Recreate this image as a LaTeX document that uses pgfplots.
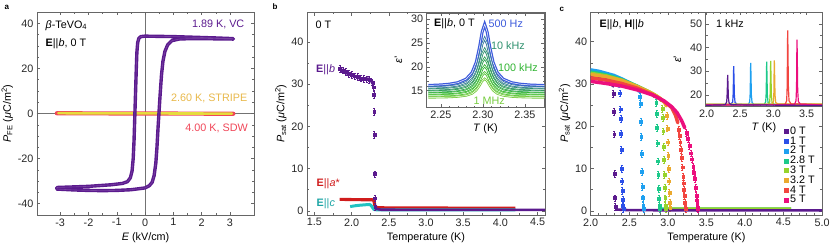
\documentclass[border=0pt]{standalone}
\usepackage{fontspec}
\setmainfont{Liberation Sans}
\usepackage{pgfplots}
\pgfplotsset{compat=1.18}
\definecolor{pur}{HTML}{5B1A8E}
\definecolor{sdw}{HTML}{F04658}
\definecolor{strl}{HTML}{E6DC3C}
\definecolor{strt}{HTML}{E8B84A}
\definecolor{ared}{HTML}{D01C1C}
\definecolor{ccy}{HTML}{22C2C2}
\definecolor{eA}{RGB}{60,90,220}
\definecolor{eB}{RGB}{52,120,160}
\definecolor{eC}{RGB}{46,145,110}
\definecolor{eD}{RGB}{44,160,80}
\definecolor{eE}{RGB}{48,180,50}
\definecolor{eF}{RGB}{80,195,55}
\definecolor{eG}{RGB}{120,205,65}
\definecolor{cA}{HTML}{5B1A8E}
\definecolor{cB}{HTML}{2B4FE8}
\definecolor{cC}{HTML}{1EA0F0}
\definecolor{cD}{HTML}{1CC98A}
\definecolor{cE}{HTML}{96D32C}
\definecolor{cF}{HTML}{EBA92E}
\definecolor{cG}{HTML}{F2453F}
\definecolor{cH}{HTML}{EC0F7D}
\newcommand{\fs}{\fontsize{10.8bp}{13bp}\selectfont}
\pgfplotsset{
  myax/.style={scale only axis,
    axis line style={draw=black!60, line width=0.5pt},
    every tick/.style={draw=black!60, line width=0.5pt},
    tick align=inside, major tick length=3bp, minor tick length=1.8bp,
    font=\fs, ticklabel style={font=\fs, text=black!85},
    label style={font=\fs},
    /pgf/number format/assume math mode=true,
    clip=true},
  dropmk/.style={only marks, mark=square*, mark size=1.4bp,
    error bars/y dir=both, error bars/y fixed=0.8,
    error bars/error bar style={line width=0.4pt},
    error bars/error mark options={rotate=90, mark size=1bp}},
  band/.style={line width=3.5pt, line join=round, line cap=round},
}
\begin{document}
\begin{tikzpicture}
\useasboundingbox (0,0) rectangle (830bp,-249bp);
% ---------------- panel a
\begin{axis}[myax, at={(37bp,-215bp)}, anchor=south west, width=217bp, height=203bp,
  xmin=-3.82, xmax=3.85, ymin=-45, ymax=45,
  xtick={-3,-2,-1,0,1,2,3}, ytick={-40,-20,0,20,40},
  minor x tick num=1, minor y tick num=3,
  extra x ticks={0}, extra x tick labels={}, extra y ticks={0}, extra y tick labels={},
  extra tick style={grid=major, major grid style={black!55, line width=0.6pt}},
  xlabel={\textit{E} (kV/cm)},
  ylabel={\textit{P}\textsubscript{FE} (\textit{μ}C/m\textsuperscript{2})},
  ylabel style={yshift=-2bp}]
\addplot[sdw, line width=4.2pt, line cap=round] coordinates {(-3.12,0.1)(-1.5,0.05)(0,0)(1.5,-0.05)(3.12,-0.1)};
\addplot[strl, line width=2.6pt, line cap=round] coordinates {(-3.07,0.15)(-1.5,0.05)(0,0.05)(1.5,0)(3.07,-0.05)};
\addplot[pur, line width=3.4pt, line join=round, line cap=round] coordinates {
(3.12,33.2)(2.5,33.5)(2.0,33.7)(1.5,33.9)(1.0,34.1)(0.5,34.2)(0.0,34.3)(-0.15,34.1)(-0.22,33.3)(-0.26,31.5)(-0.29,27)(-0.31,20)(-0.33,12)(-0.35,4)(-0.37,-4)(-0.39,-12)(-0.42,-20)(-0.46,-25.5)(-0.52,-28.5)(-0.62,-30.2)(-0.8,-31)(-1.2,-31.6)(-2,-32.3)(-3.12,-32.8)
(-3.12,-33.5)(-2.5,-33.9)(-2.0,-34.1)(-1.5,-34.2)(-1.0,-34.1)(-0.5,-33.8)(0.0,-33)(0.15,-32)(0.25,-30.5)(0.32,-27.5)(0.38,-22)(0.42,-15)(0.46,-6)(0.49,0)(0.53,8)(0.58,17)(0.63,23)(0.7,27.5)(0.8,30.5)(0.95,32.3)(1.2,33)(1.6,33.2)(2.0,33.2)(2.5,33.1)(3.12,33.0)};
\addplot[pur!82!white, line width=0.6pt, line join=round] coordinates {
(3.12,33.2)(2.5,33.5)(2.0,33.7)(1.5,33.9)(1.0,34.1)(0.5,34.2)(0.0,34.3)(-0.15,34.1)(-0.22,33.3)(-0.26,31.5)(-0.29,27)(-0.31,20)(-0.33,12)(-0.35,4)(-0.37,-4)(-0.39,-12)(-0.42,-20)(-0.46,-25.5)(-0.52,-28.5)(-0.62,-30.2)(-0.8,-31)(-1.2,-31.6)(-2,-32.3)(-3.12,-32.8)
(-3.12,-33.5)(-2.5,-33.9)(-2.0,-34.1)(-1.5,-34.2)(-1.0,-34.1)(-0.5,-33.8)(0.0,-33)(0.15,-32)(0.25,-30.5)(0.32,-27.5)(0.38,-22)(0.42,-15)(0.46,-6)(0.49,0)(0.53,8)(0.58,17)(0.63,23)(0.7,27.5)(0.8,30.5)(0.95,32.3)(1.2,33)(1.6,33.2)(2.0,33.2)(2.5,33.1)(3.12,33.0)};
\end{axis}
% ---------------- panel b
\begin{axis}[myax, at={(307bp,-215bp)}, anchor=south west, width=238bp, height=202.5bp,
  xmin=1.4, xmax=4.6, ymin=-1, ymax=47,
  xtick={1.5,2.0,...,4.5}, ytick={0,10,20,30,40},
  minor x tick num=1, minor y tick num=1,
  xticklabel style={/pgf/number format/.cd, fixed, fixed zerofill, precision=1},
  xlabel={Temperature (K)},
  ylabel={\textit{P}\textsubscript{sat} (\textit{μ}C/m\textsuperscript{2})},
  ylabel style={yshift=-2bp}]
\addplot[ared, line width=3.2pt, line join=round] coordinates {(1.84,2.7)(1.9,2.7)(2.0,2.65)(2.1,2.65)(2.2,2.6)(2.28,2.6)(2.3,2.4)(2.31,1.4)(2.32,0.8)(2.4,0.7)(3.0,0.65)(4.2,0.6)};
\addplot[ccy, line width=3pt, line join=round] coordinates {(1.98,1.0)(2.05,1.2)(2.1,1.3)(2.2,1.45)(2.24,1.5)(2.26,1.3)(2.28,0.8)(2.30,0.3)(2.35,0.2)(4.2,0.2)};
\addplot[pur, line width=3pt, line join=round] coordinates {(1.84,33.6)(1.86,33.4)(1.88,33.3)(1.90,33.0)(1.92,32.9)(1.94,32.6)(1.96,32.5)(1.98,32.3)(2.00,32.2)(2.02,32.0)(2.04,31.9)(2.06,31.8)(2.08,31.7)(2.10,31.5)(2.12,31.4)(2.14,31.3)(2.16,31.3)(2.18,31.1)(2.20,31.2)(2.22,31.3)(2.24,31.0)(2.26,30.8)(2.28,30.5)(2.29,30.0)};
\addplot[pur, dropmk] coordinates {(1.84,33.6)(1.88,33.3)(1.92,32.9)(1.96,32.5)(2.00,32.2)(2.04,31.9)(2.08,31.7)(2.12,31.4)(2.16,31.3)(2.20,31.2)(2.24,31.0)(2.28,30.5)(2.295,29.3)(2.30,27.6)(2.303,23.5)(2.306,18.1)(2.31,8.7)(2.313,3.0)(2.316,1.0)};
\addplot[pur, line width=2.6pt] coordinates {(2.316,0.5)(2.4,0.25)(3.0,0.2)(4.6,0.2)};
\end{axis}
% inset b
\begin{axis}[myax, at={(426.7bp,-13bp)}, anchor=north west, width=117.6bp, height=94.3bp,
  axis background/.style={fill=white},
  xmin=2.233, xmax=2.373, ymin=11.5, ymax=31.3,
  xtick={2.25,2.30,2.35}, ytick={15,20,25,30},
  minor x tick num=4, minor y tick num=4,
  xticklabel style={/pgf/number format/.cd, fixed, fixed zerofill, precision=2},
  xlabel={\textit{T} (K)}, ylabel={\textit{ε}'},
  xlabel style={yshift=2bp}, ylabel style={yshift=2bp}]
\addplot[eA, line width=3pt] coordinates {(2.235,16.08)(2.25,16.2)(2.26,16.36)(2.27,16.67)(2.28,17.42)(2.287,18.77)(2.292,20.97)(2.296,24.22)(2.299,27.3)(2.302,28.9)(2.305,27.3)(2.308,24.22)(2.312,20.97)(2.317,18.77)(2.324,17.42)(2.334,16.67)(2.344,16.36)(2.357,16.17)(2.375,16.06)};
\addplot[white, line width=0.5pt] coordinates {(2.235,16.08)(2.25,16.2)(2.26,16.36)(2.27,16.67)(2.28,17.42)(2.287,18.77)(2.292,20.97)(2.296,24.22)(2.299,27.3)(2.302,28.9)(2.305,27.3)(2.308,24.22)(2.312,20.97)(2.317,18.77)(2.324,17.42)(2.334,16.67)(2.344,16.36)(2.357,16.17)(2.375,16.06)};
\addplot[eB, line width=2.2pt] coordinates {(2.235,15.65)(2.25,15.74)(2.26,15.87)(2.27,16.12)(2.28,16.73)(2.287,17.82)(2.292,19.6)(2.296,22.22)(2.299,24.71)(2.302,26)(2.305,24.71)(2.308,22.22)(2.312,19.6)(2.317,17.82)(2.324,16.73)(2.334,16.12)(2.344,15.87)(2.357,15.72)(2.375,15.63)};
\addplot[white, line width=0.5pt] coordinates {(2.235,15.65)(2.25,15.74)(2.26,15.87)(2.27,16.12)(2.28,16.73)(2.287,17.82)(2.292,19.6)(2.296,22.22)(2.299,24.71)(2.302,26)(2.305,24.71)(2.308,22.22)(2.312,19.6)(2.317,17.82)(2.324,16.73)(2.334,16.12)(2.344,15.87)(2.357,15.72)(2.375,15.63)};
\addplot[eC, line width=2.2pt] coordinates {(2.235,15.22)(2.25,15.3)(2.26,15.4)(2.27,15.61)(2.28,16.11)(2.287,17.0)(2.292,18.45)(2.296,20.6)(2.299,22.64)(2.302,23.7)(2.305,22.64)(2.308,20.6)(2.312,18.45)(2.317,17.0)(2.324,16.11)(2.334,15.61)(2.344,15.4)(2.357,15.28)(2.375,15.2)};
\addplot[white, line width=0.5pt] coordinates {(2.235,15.22)(2.25,15.3)(2.26,15.4)(2.27,15.61)(2.28,16.11)(2.287,17.0)(2.292,18.45)(2.296,20.6)(2.299,22.64)(2.302,23.7)(2.305,22.64)(2.308,20.6)(2.312,18.45)(2.317,17.0)(2.324,16.11)(2.334,15.61)(2.344,15.4)(2.357,15.28)(2.375,15.2)};
\addplot[eD, line width=2.2pt] coordinates {(2.235,14.8)(2.25,14.86)(2.26,14.95)(2.27,15.12)(2.28,15.53)(2.287,16.27)(2.292,17.47)(2.296,19.24)(2.299,20.93)(2.302,21.8)(2.305,20.93)(2.308,19.24)(2.312,17.47)(2.317,16.27)(2.324,15.53)(2.334,15.12)(2.344,14.95)(2.357,14.85)(2.375,14.79)};
\addplot[white, line width=0.5pt] coordinates {(2.235,14.8)(2.25,14.86)(2.26,14.95)(2.27,15.12)(2.28,15.53)(2.287,16.27)(2.292,17.47)(2.296,19.24)(2.299,20.93)(2.302,21.8)(2.305,20.93)(2.308,19.24)(2.312,17.47)(2.317,16.27)(2.324,15.53)(2.334,15.12)(2.344,14.95)(2.357,14.85)(2.375,14.79)};
\addplot[eE, line width=2.2pt] coordinates {(2.235,14.38)(2.25,14.44)(2.26,14.51)(2.27,14.65)(2.28,14.99)(2.287,15.6)(2.292,16.6)(2.296,18.08)(2.299,19.47)(2.302,20.2)(2.305,19.47)(2.308,18.08)(2.312,16.6)(2.317,15.6)(2.324,14.99)(2.334,14.65)(2.344,14.51)(2.357,14.42)(2.375,14.37)};
\addplot[white, line width=0.5pt] coordinates {(2.235,14.38)(2.25,14.44)(2.26,14.51)(2.27,14.65)(2.28,14.99)(2.287,15.6)(2.292,16.6)(2.296,18.08)(2.299,19.47)(2.302,20.2)(2.305,19.47)(2.308,18.08)(2.312,16.6)(2.317,15.6)(2.324,14.99)(2.334,14.65)(2.344,14.51)(2.357,14.42)(2.375,14.37)};
\addplot[eF, line width=2.2pt] coordinates {(2.235,13.97)(2.25,14.01)(2.26,14.07)(2.27,14.19)(2.28,14.47)(2.287,14.98)(2.292,15.81)(2.296,17.04)(2.299,18.2)(2.302,18.8)(2.305,18.2)(2.308,17.04)(2.312,15.81)(2.317,14.98)(2.324,14.47)(2.334,14.19)(2.344,14.07)(2.357,14.0)(2.375,13.96)};
\addplot[white, line width=0.5pt] coordinates {(2.235,13.97)(2.25,14.01)(2.26,14.07)(2.27,14.19)(2.28,14.47)(2.287,14.98)(2.292,15.81)(2.296,17.04)(2.299,18.2)(2.302,18.8)(2.305,18.2)(2.308,17.04)(2.312,15.81)(2.317,14.98)(2.324,14.47)(2.334,14.19)(2.344,14.07)(2.357,14.0)(2.375,13.96)};
\addplot[eG, line width=2.2pt] coordinates {(2.235,13.56)(2.25,13.59)(2.26,13.64)(2.27,13.74)(2.28,13.97)(2.287,14.38)(2.292,15.06)(2.296,16.06)(2.299,17.01)(2.302,17.5)(2.305,17.01)(2.308,16.06)(2.312,15.06)(2.317,14.38)(2.324,13.97)(2.334,13.74)(2.344,13.64)(2.357,13.58)(2.375,13.55)};
\addplot[white, line width=0.5pt] coordinates {(2.235,13.56)(2.25,13.59)(2.26,13.64)(2.27,13.74)(2.28,13.97)(2.287,14.38)(2.292,15.06)(2.296,16.06)(2.299,17.01)(2.302,17.5)(2.305,17.01)(2.308,16.06)(2.312,15.06)(2.317,14.38)(2.324,13.97)(2.334,13.74)(2.344,13.64)(2.357,13.58)(2.375,13.55)};
\end{axis}
% ---------------- panel c
\begin{axis}[myax, at={(590.7bp,-215bp)}, anchor=south west, width=231.3bp, height=203bp,
  xmin=2, xmax=5, ymin=-1, ymax=47,
  xtick={2.0,2.5,...,5.0}, ytick={0,10,20,30,40},
  minor x tick num=4, minor y tick num=1,
  xticklabel style={/pgf/number format/.cd, fixed, fixed zerofill, precision=1},
  xlabel={Temperature (K)},
  ylabel={\textit{P}\textsubscript{sat} (\textit{μ}C/m\textsuperscript{2})},
  ylabel style={yshift=-2bp},
  legend style={draw=none, fill=none, at={(0.835,0.445)}, anchor=north west, font=\fs,
    row sep=-3.2bp, inner sep=0pt, cells={anchor=west}},
  legend image code/.code={\draw[#1] plot coordinates {(0.1cm,0cm)};}]
\addlegendimage{only marks, mark=square*, mark size=2bp, cA}\addlegendentry{0 T}
\addlegendimage{only marks, mark=square*, mark size=2bp, cB}\addlegendentry{1 T}
\addlegendimage{only marks, mark=square*, mark size=2bp, cC}\addlegendentry{2 T}
\addlegendimage{only marks, mark=square*, mark size=2bp, cD}\addlegendentry{2.8 T}
\addlegendimage{only marks, mark=square*, mark size=2bp, cE}\addlegendentry{3 T}
\addlegendimage{only marks, mark=square*, mark size=2bp, cF}\addlegendentry{3.2 T}
\addlegendimage{only marks, mark=square*, mark size=2bp, cG}\addlegendentry{4 T}
\addlegendimage{only marks, mark=square*, mark size=2bp, cH}\addlegendentry{5 T}
% tails
\addplot[cD, line width=2.4pt, forget plot] coordinates {(2.9,0.55)(3.5,0.5)(4.6,0.5)};
\addplot[cE, line width=2pt, forget plot] coordinates {(2.98,0.6)(3.5,0.55)(4.6,0.55)};
% 0 T
\addplot[cA, band, forget plot] coordinates {(2.0,31.8)(2.05,31.6)(2.1,31.4)(2.15,31.2)(2.2,31.0)(2.25,30.7)(2.28,30.2)(2.29,29.5)};
\addplot[cA, dropmk, forget plot] coordinates {(2.295,27.6)(2.30,23.5)(2.305,18.1)(2.31,8.7)(2.315,3.0)(2.32,1.0)};
% 1 T
\addplot[cB, band, forget plot] coordinates {(2.0,33.0)(2.05,32.8)(2.1,32.5)(2.15,32.2)(2.2,31.8)(2.25,31.4)(2.3,30.8)(2.34,30.2)(2.37,29.4)};
\addplot[cB, dropmk, forget plot] coordinates {(2.38,27.8)(2.385,24)(2.39,21.8)(2.393,18.3)(2.397,14.5)(2.40,10)(2.405,7)(2.41,4.8)(2.415,2.6)(2.42,1.2)(2.425,0.5)};
% 2 T
\addplot[cC, band, forget plot] coordinates {(2.0,33.3)(2.1,33.0)(2.2,32.5)(2.3,32.0)(2.4,31.2)(2.5,30.3)(2.56,29.6)(2.6,29.0)(2.63,28.2)};
\addplot[cC, dropmk, forget plot] coordinates {(2.64,26.9)(2.645,25.3)(2.65,21)(2.655,17.5)(2.66,13.5)(2.665,9.2)(2.67,5.7)(2.675,3)(2.68,1.3)(2.685,0.5)};
% 2.8 T
\addplot[cD, band, forget plot] coordinates {(2.0,32.8)(2.1,32.5)(2.2,32.1)(2.3,31.6)(2.4,31.0)(2.5,30.3)(2.6,29.5)(2.7,28.6)(2.78,27.8)(2.83,27.0)};
\addplot[cD, dropmk, forget plot] coordinates {(2.85,25.5)(2.855,23)(2.86,19.6)(2.865,16)(2.87,11.7)(2.875,8.5)(2.88,5.2)(2.885,2.8)(2.89,1.2)(2.895,0.5)};
% 3 T
\addplot[cE, band, forget plot] coordinates {(2.0,32.5)(2.2,31.9)(2.4,30.9)(2.6,29.4)(2.75,28.2)(2.85,27.2)(2.9,26.5)(2.92,26.0)};
\addplot[cE, dropmk, forget plot] coordinates {(2.93,24.2)(2.935,22)(2.94,18.8)(2.945,15.2)(2.95,12)(2.955,8.5)(2.96,5.5)(2.965,3)(2.97,1.3)(2.975,0.5)};
% 3.2 T
\addplot[cF, band, forget plot] coordinates {(2.0,32.2)(2.2,31.7)(2.4,30.8)(2.6,29.4)(2.8,27.7)(2.9,26.6)(2.96,25.6)(2.98,24.8)};
\addplot[cF, dropmk, forget plot] coordinates {(2.99,22.5)(2.995,19.5)(3.0,16.2)(3.005,13)(3.01,10)(3.015,7)(3.02,4.2)(3.025,2)(3.03,0.8)};
% 4 T
\addplot[cG, band, forget plot] coordinates {(2.0,31.4)(2.2,30.9)(2.4,30.1)(2.6,29.0)(2.8,27.5)(2.95,25.9)(3.05,24.4)(3.1,22.6)(3.13,20.8)};
\addplot[cG, dropmk, forget plot] coordinates {(3.14,19.2)(3.15,17.8)(3.16,16.2)(3.17,14.5)(3.18,12.5)(3.19,10.3)(3.2,8)(3.205,6.5)(3.21,5)(3.215,3.5)(3.22,2)(3.225,1)(3.23,0.4)};
% 5 T
\addplot[cH, band, forget plot] coordinates {(2.0,30.6)(2.2,30.1)(2.4,29.5)(2.6,28.6)(2.8,27.4)(2.95,26.0)(3.05,24.6)(3.12,23.2)(3.18,21.3)(3.22,19.6)};
\addplot[cH, dropmk, forget plot] coordinates {(3.24,18.4)(3.26,17)(3.28,15.3)(3.30,13.6)(3.315,12.2)(3.33,10.5)(3.34,9)(3.35,7.5)(3.36,5.5)(3.37,3.5)(3.375,2.5)(3.38,1.6)(3.385,0.8)(3.39,0.4)};
\addplot[cA, line width=2.6pt, forget plot] coordinates {(2.32,0.3)(2.5,0.15)(3.5,0.1)(5.0,0.1)};
\end{axis}
% inset c
\begin{axis}[myax, at={(705.7bp,-12bp)}, anchor=north west, width=116.3bp, height=94.7bp,
  axis background/.style={fill=white},
  xmin=1.985, xmax=3.73, ymin=15, ymax=55,
  xtick={2.0,2.5,3.0,3.5}, ytick={20,30,40,50},
  minor x tick num=4, minor y tick num=1,
  xticklabel style={/pgf/number format/.cd, fixed, fixed zerofill, precision=1},
  xlabel={\textit{T} (K)}, ylabel={\textit{ε}'},
  xlabel style={yshift=2bp}, ylabel style={yshift=2bp}]
\addplot[cB, line width=1.2pt] coordinates {(1.99,15.9)(2.36,16.0)(2.39,17)(2.398,21)(2.402,29)(2.405,32.1)(2.409,28)(2.415,20)(2.425,16.8)(2.46,16.0)(3.73,15.9)};
\addplot[cC, line width=1.2pt] coordinates {(1.99,15.7)(2.62,15.8)(2.645,17)(2.653,21)(2.657,30)(2.66,33.5)(2.664,29)(2.67,20)(2.68,16.8)(2.71,15.9)(3.73,15.7)};
\addplot[cD, line width=1.2pt] coordinates {(1.99,15.8)(2.86,15.9)(2.885,17)(2.893,21)(2.897,30)(2.90,34)(2.904,29)(2.91,20)(2.92,16.8)(2.95,16)(3.73,15.8)};
\addplot[cE, line width=1.2pt] coordinates {(1.99,16.0)(2.92,16.0)(2.945,17)(2.953,21)(2.957,30)(2.96,34.3)(2.964,29)(2.97,20)(2.98,16.8)(3.01,16.1)(3.73,16.0)};
\addplot[cF, line width=1.2pt] coordinates {(1.99,16.1)(2.975,16.1)(3.0,17)(3.008,21)(3.012,31)(3.015,34.6)(3.019,29)(3.025,20)(3.035,16.8)(3.065,16.2)(3.73,16.1)};
\addplot[cG, line width=1.2pt] coordinates {(1.99,15.8)(3.175,15.9)(3.2,17.5)(3.208,24)(3.212,40)(3.215,47.2)(3.219,40)(3.225,24)(3.235,17.5)(3.265,16.2)(3.73,15.8)};
\addplot[cH, line width=1.2pt] coordinates {(1.99,15.7)(3.315,15.8)(3.34,17.5)(3.348,23)(3.352,37)(3.355,43.3)(3.359,36)(3.365,22)(3.375,17.2)(3.405,16.1)(3.73,15.7)};
\addplot[cA, line width=1.2pt] coordinates {(1.99,15.6)(2.275,15.8)(2.30,17)(2.308,21)(2.312,26)(2.315,28.4)(2.319,25)(2.325,19)(2.335,16.6)(2.37,15.8)(3.73,15.5)};
\end{axis}
% ---------------- texts
\node[anchor=base west, inner sep=0, font=\fontsize{8bp}{9bp}\selectfont\bfseries] at (4.5bp,-9.5bp) {a};
\node[anchor=base west, inner sep=0, font=\fontsize{8bp}{9bp}\selectfont\bfseries] at (272.5bp,-9.5bp) {b};
\node[anchor=base west, inner sep=0, font=\fontsize{8bp}{9bp}\selectfont\bfseries] at (559.5bp,-11bp) {c};
\begin{scope}[every node/.style={inner sep=0, font=\fs}]
\node[anchor=west] at (45.5bp,-25.5bp) {\textit{β}-TeVO\textsubscript{4}};
\node[anchor=west] at (45.5bp,-43.5bp) {\textbf{E}||\textit{b}, 0 T};
\node[anchor=east, text=pur] at (244.5bp,-24bp) {1.89 K, VC};
\node[anchor=east, text=strt] at (247.5bp,-98bp) {2.60 K, STRIPE};
\node[anchor=east, text=sdw] at (248bp,-128.5bp) {4.00 K, SDW};
\node[anchor=west] at (315.5bp,-25bp) {0 T};
\node[anchor=west, text=pur] at (316bp,-69.5bp) {\textbf{E}||\textit{b}};
\node[anchor=west, text=ared] at (316.5bp,-184bp) {\textbf{E}||\textit{a}*};
\node[anchor=west, text=ccy!85!black] at (316.5bp,-203.5bp) {\textbf{E}||\textit{c}};
\node[anchor=west] at (434bp,-23.5bp) {\textbf{E}||\textit{b}, 0 T};
\node[anchor=west, text=eA] at (488.5bp,-23.5bp) {500 Hz};
\node[anchor=west, text=eC] at (491bp,-45.5bp) {10 kHz};
\node[anchor=west, text=eE] at (498bp,-67.5bp) {100 kHz};
\node[anchor=west, text=eG] at (473.5bp,-100.5bp) {1 MHz};
\node[anchor=west] at (599.5bp,-25bp) {\textbf{E}||\textit{b}, \textbf{H}||\textit{b}};
\node[anchor=west] at (716bp,-24bp) {1 kHz};
\end{scope}
\end{tikzpicture}
\end{document}
